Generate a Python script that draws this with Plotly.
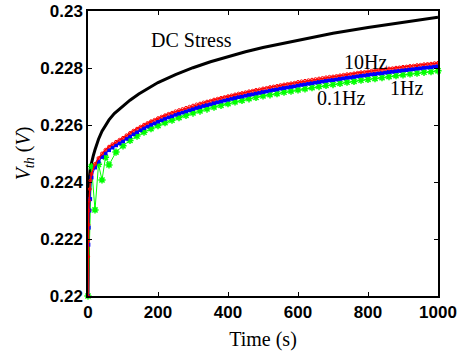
import plotly.graph_objects as go

# ---- data ----
dc_t = [0, 0.5, 1, 2, 3, 4, 6, 8, 10, 15, 20, 25, 30, 40, 50, 60, 75, 87, 100, 120, 145, 172,
        200, 250, 300, 350, 400, 450, 500, 600, 700, 800, 900, 1000]
dc_v = [0.2200, 0.2231, 0.2235, 0.2238, 0.22405, 0.22425, 0.22442, 0.22456, 0.22468, 0.22492,
        0.22513, 0.22532, 0.22550, 0.22578, 0.22600, 0.22618, 0.22640, 0.22653, 0.22667, 0.22687,
        0.22709, 0.22730, 0.22749, 0.22777, 0.22801, 0.22822, 0.22840, 0.22857, 0.22872, 0.22898,
        0.22922, 0.22942, 0.22961, 0.22978]

red_t = [0, 0.3, 0.6, 1, 2, 3, 5, 7] + list(range(10, 1001, 10))
red_v = [0.2200, 0.22138, 0.22196, 0.2225, 0.2230, 0.22335, 0.22375, 0.22405,
         0.22428, 0.22463, 0.22484, 0.22500, 0.22513, 0.22524, 0.22533, 0.22541, 0.22548, 0.22555,
         0.22564, 0.22572, 0.22580, 0.22587, 0.22594, 0.22601, 0.22607, 0.22613, 0.22618, 0.22624,
         0.22629, 0.22634, 0.22639, 0.22643, 0.22648, 0.22652, 0.22656, 0.22660, 0.22664, 0.22668,
         0.22672, 0.22675, 0.22679, 0.22682, 0.22685, 0.22689, 0.22692, 0.22695, 0.22698, 0.22701,
         0.22704, 0.22707, 0.22710, 0.22712, 0.22715, 0.22718, 0.22720, 0.22723, 0.22725, 0.22728,
         0.22730, 0.22733, 0.22735, 0.22737, 0.22740, 0.22742, 0.22744, 0.22746, 0.22748, 0.22751,
         0.22753, 0.22755, 0.22757, 0.22759, 0.22761, 0.22763, 0.22765, 0.22767, 0.22769, 0.22770,
         0.22772, 0.22774, 0.22776, 0.22778, 0.22779, 0.22781, 0.22783, 0.22785, 0.22786, 0.22788,
         0.22790, 0.22791, 0.22793, 0.22794, 0.22796, 0.22798, 0.22799, 0.22801, 0.22802, 0.22804,
         0.22805, 0.22807, 0.22808, 0.22810, 0.22811, 0.22813, 0.22814, 0.22815, 0.22817, 0.22818]

blue_t = [0, 1, 2, 4, 6] + list(range(10, 1001, 10))
blue_v = [0.2200, 0.2218, 0.2224, 0.2230, 0.2234,
          0.22416, 0.22451, 0.22472, 0.22488, 0.22501, 0.22512, 0.22521, 0.22529, 0.22536, 0.22543,
          0.22552, 0.22560, 0.22568, 0.22575, 0.22582, 0.22589, 0.22595, 0.22601, 0.22606, 0.22612,
          0.22617, 0.22622, 0.22627, 0.22631, 0.22636, 0.22640, 0.22644, 0.22648, 0.22652, 0.22656,
          0.22660, 0.22663, 0.22667, 0.22670, 0.22673, 0.22677, 0.22680, 0.22683, 0.22686, 0.22689,
          0.22692, 0.22695, 0.22698, 0.22700, 0.22703, 0.22706, 0.22708, 0.22711, 0.22713, 0.22716,
          0.22718, 0.22721, 0.22723, 0.22725, 0.22728, 0.22730, 0.22732, 0.22734, 0.22736, 0.22739,
          0.22741, 0.22743, 0.22745, 0.22747, 0.22749, 0.22751, 0.22753, 0.22755, 0.22757, 0.22758,
          0.22760, 0.22762, 0.22764, 0.22766, 0.22767, 0.22769, 0.22771, 0.22773, 0.22774, 0.22776,
          0.22778, 0.22779, 0.22781, 0.22782, 0.22784, 0.22786, 0.22787, 0.22789, 0.22790, 0.22792,
          0.22793, 0.22795, 0.22796, 0.22798, 0.22799, 0.22801, 0.22802, 0.22803, 0.22805, 0.22806]

green_t = [0, 10, 20, 30, 40, 50, 60, 80] + list(range(100, 1001, 20))
green_v = [0.2200, 0.22454, 0.22302, 0.22462, 0.22407, 0.22487, 0.22460, 0.22505,
           0.22527, 0.22546, 0.22561, 0.22575, 0.22587, 0.22598, 0.22608, 0.22617, 0.22626, 0.22634,
           0.22642, 0.22649, 0.22656, 0.22663, 0.22669, 0.22675, 0.22681, 0.22686, 0.22692, 0.22697,
           0.22702, 0.22706, 0.22710, 0.22715, 0.22719, 0.22723, 0.22727, 0.22731, 0.22735, 0.22739,
           0.22742, 0.22746, 0.22750, 0.22753, 0.22757, 0.22760, 0.22763, 0.22766, 0.22770, 0.22773,
           0.22776, 0.22779, 0.22782, 0.22785, 0.22787, 0.22790]

y_ticks = [0.22, 0.222, 0.224, 0.226, 0.228, 0.23]
y_labels = ["0.22", "0.222", "0.224", "0.226", "0.228", "0.23"]
x_ticks = [0, 200, 400, 600, 800, 1000]

labels = ["DC Stress", "10Hz", "0.1Hz", "1Hz"]
label_t = [297, 794, 723, 909]
label_v = [0.22898, 0.22821, 0.22695, 0.2273]

fig = go.Figure()
fig.add_trace(go.Scatter(x=dc_t, y=dc_v, mode="lines", line=dict(color="black", width=3),
                         cliponaxis=False))
fig.add_trace(go.Scatter(x=green_t, y=green_v, mode="lines+markers",
                         line=dict(color="#00ff00", width=1),
                         marker=dict(symbol="asterisk-open", size=6, color="#00ff00",
                                     line=dict(color="#00ff00", width=1.5)),
                         cliponaxis=False))
fig.add_trace(go.Scatter(x=blue_t, y=blue_v, mode="lines+markers",
                         line=dict(color="#0000ff", width=1),
                         marker=dict(symbol="square", size=4, color="#0000ff"),
                         cliponaxis=False))
fig.add_trace(go.Scatter(x=red_t, y=red_v, mode="lines+markers",
                         line=dict(color="#ff0000", width=1.5),
                         marker=dict(symbol="circle-open", size=3, color="#ff0000",
                                     line=dict(color="#ff0000", width=1)),
                         cliponaxis=False))

for txt, tx, ty in zip(labels, label_t, label_v):
    fig.add_annotation(x=tx, y=ty, text=txt, showarrow=False,
                       font=dict(family="Liberation Serif", size=20, color="black"))

tickfont = dict(family="Liberation Sans", size=17, color="black")
fig.update_layout(
    width=461, height=354,
    margin=dict(l=88, r=23, t=11, b=58, autoexpand=False),
    paper_bgcolor="white", plot_bgcolor="white",
    showlegend=False,
    xaxis=dict(range=[0, 1000], tickvals=x_ticks,
               ticktext=["<b>%d</b>" % v for v in x_ticks],
               tickfont=tickfont, ticks="inside", ticklen=4, tickcolor="black",
               showline=True, linecolor="black", linewidth=1.5, mirror="ticks",
               showgrid=False, zeroline=False, automargin=False, ticklabeloverflow="allow",
               title=dict(text="Time (s)", font=dict(family="Liberation Serif", size=20, color="black"),
                          standoff=11)),
    yaxis=dict(range=[0.22, 0.23], tickvals=y_ticks,
               ticktext=["<b>%s</b>" % s for s in y_labels],
               tickfont=tickfont, ticks="inside", ticklen=4, tickcolor="black",
               showline=True, linecolor="black", linewidth=1.5, mirror="ticks",
               showgrid=False, zeroline=False, automargin=False, ticklabeloverflow="allow",
               title=dict(text="<i>V</i><sub><i>th</i></sub> (<i>V</i>)",
                          font=dict(family="Liberation Serif", size=20, color="black"),
                          standoff=4)),
)
fig.write_html("out.html", config={"displayModeBar": False},
               post_script="document.body.style.margin='0';")
